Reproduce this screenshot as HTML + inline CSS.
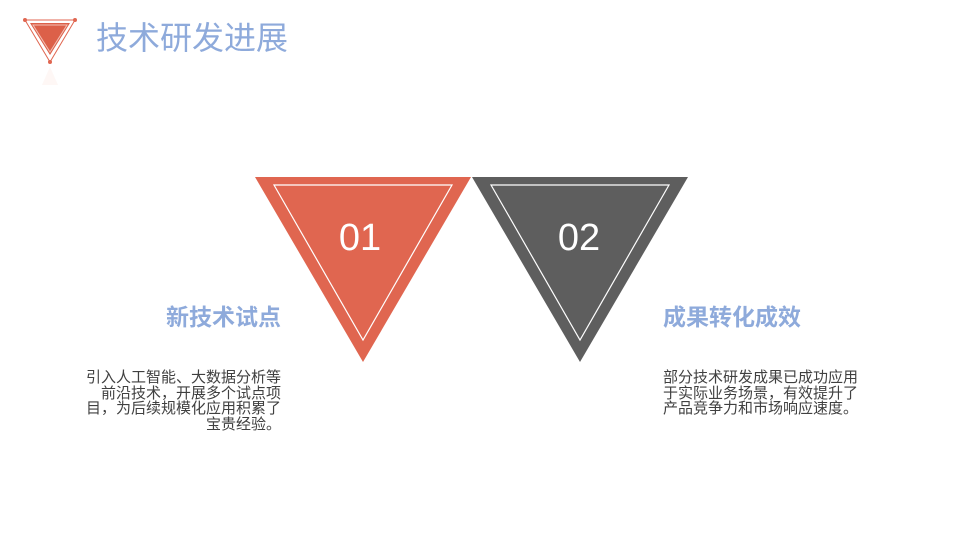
<!DOCTYPE html>
<html><head><meta charset="utf-8"><style>
body{margin:0;width:960px;height:540px;background:#fff;position:relative;overflow:hidden;font-family:"Liberation Sans","Noto Sans CJK SC",sans-serif}
.t{position:absolute;white-space:nowrap}
</style></head><body>
<svg width="960" height="540" style="position:absolute;left:0;top:0">
<polygon points="25,20 75,20 50,62" fill="none" stroke="#e06650" stroke-width="1"/>
<polygon points="30,23 70,23 50,55" fill="#dc6049"/>
<polygon points="33,25 67,25 50,52" fill="none" stroke="#f3c0b5" stroke-width="1"/>
<circle cx="25" cy="20" r="2" fill="#e06650"/><circle cx="75" cy="20" r="2" fill="#e06650"/><circle cx="50" cy="62" r="2" fill="#e06650"/>
<polygon points="50,67 42,85 58,85" fill="#fdf1ee" opacity="0.6"/>
<polygon points="255,177 471,177 363,362" fill="#e06650"/>
<polygon points="274,185 452,185 363,340" fill="none" stroke="#fff" stroke-width="1.2"/>
<polygon points="472,177 688,177 580,362" fill="#5e5e5e"/>
<polygon points="491,185 669,185 580,340" fill="none" stroke="#fff" stroke-width="1.2"/>
</svg>
<div class="t" style="left:96px;top:18px;font-size:32px;color:#8eaadb;line-height:40px">技术研发进展</div>
<div class="t" style="left:327px;top:215px;width:66px;text-align:center;font-size:38px;color:#fff;line-height:46px">01</div>
<div class="t" style="left:546px;top:215px;width:66px;text-align:center;font-size:38px;color:#fff;line-height:46px">02</div>
<div class="t" style="left:60px;top:302px;width:221px;text-align:right;font-size:23px;font-weight:bold;color:#8eaadb;line-height:30px">新技术试点</div>
<div class="t" style="left:663px;top:302px;font-size:23px;font-weight:bold;color:#8eaadb;line-height:30px">成果转化成效</div>
<div class="t" style="left:40px;top:370px;width:241px;text-align:right;font-size:15px;color:#404040;line-height:15.5px">引入人工智能、大数据分析等<br>前沿技术，开展多个试点项<br>目，为后续规模化应用积累了<br>宝贵经验。</div>
<div class="t" style="left:663px;top:370px;font-size:15px;color:#404040;line-height:15.5px">部分技术研发成果已成功应用<br>于实际业务场景，有效提升了<br>产品竞争力和市场响应速度。</div>
</body></html>
